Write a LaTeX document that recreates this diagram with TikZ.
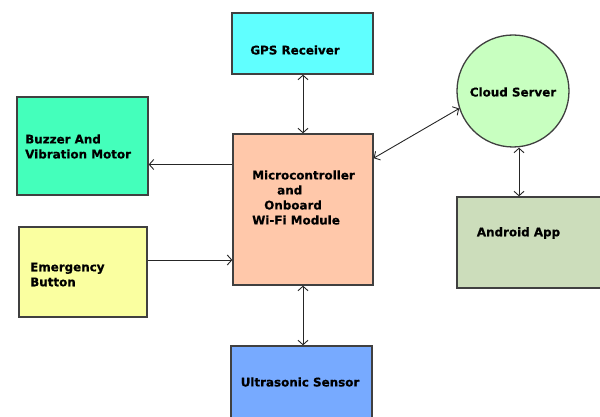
\documentclass[tikz,border=0pt]{standalone}
\usepackage{fontspec}
\newfontfamily\blockfont{DejaVu Sans}[BoldFont={DejaVu Sans Bold},BoldFeatures={FakeBold=0.6}]
\usetikzlibrary{arrows.meta}

\definecolor{gpscol}{HTML}{60FFFF}
\definecolor{buzzcol}{HTML}{44FFBB}
\definecolor{emercol}{HTML}{FAFFA0}
\definecolor{mcucol}{HTML}{FFC8AA}
\definecolor{cloudcol}{HTML}{C8FFC0}
\definecolor{appcol}{HTML}{CCDDBB}
\definecolor{sonarcol}{HTML}{77AAFF}

\begin{document}
\begin{tikzpicture} [
                x=1pt, y=-1pt,
                block/.style={draw=black!75,line width=1.3pt,inner sep=0pt},
                txt/.style={font=\blockfont\bfseries\fontsize{11.9}{15}\selectfont,inner sep=0pt,align=left},
                link/.style={draw,line width=0.9pt,black!85,>={Straight Barb[length=4.5pt,width=10pt]}},
            ]
            \useasboundingbox (0,0) rectangle (600,417);
            % First we draw the blocks
            \foreach \pos/\w/\h/\col/\name in {
                    {(302.5,43.5)/141/61/gpscol/gps}, {(82.5,146)/131/98/buzzcol/buzz},
                    {(83,272)/128/90/emercol/emer}, {(303,209.5)/140/151/mcucol/mcu},
                    {(529.5,242.5)/145/91/appcol/app}, {(301.5,386)/141/80/sonarcol/sonar}}
                \node[block,fill=\col,minimum width=\w pt,minimum height=\h pt] (\name) at \pos {};
            \node[block,circle,fill=cloudcol,minimum size=112pt] (cloud) at (513,91) {};
            % Then the texts inside them
            \node[txt] (gpst) at (295,50) {GPS Receiver};
            \node[txt,anchor=west] (buzzt) at (25,146.5) {Buzzer And\\Vibration Motor};
            \node[txt,anchor=west] (emert) at (30,274.5) {Emergency\\Button};
            \node[txt] (mcut) at (303.5,197.5) {Microcontroller\\\hspace*{25pt}and\\\hspace*{12pt}Onboard\\Wi-Fi Module};
            \node[txt] (cloudt) at (513,92) {Cloud Server};
            \node[txt] (appt) at (518.5,233) {Android App};
            \node[txt] (sonart) at (300,382) {Ultrasonic Sensor};
            % Connect the blocks
            \coordinate (m1) at ([yshift=45pt]mcu.west);
            \coordinate (e1) at ([yshift=12pt]emer.east);
            \coordinate (c1) at ([xshift=6pt]cloud.south);
            \path[link,<->] (gps.south -| mcu.north) -- (mcu.north);
            \path[link,->] (m1) -- (m1 -| buzz.east);
            \path[link,->] (e1) -- (e1 -| mcu.west);
            \path[link,<->] (mcu.36) -- (cloud.198);
            \path[link,<->] (c1) -- (c1 |- app.north);
            \path[link,<->] (mcu.south) -- (mcu.south |- sonar.north);
        \end{tikzpicture}
\end{document}
